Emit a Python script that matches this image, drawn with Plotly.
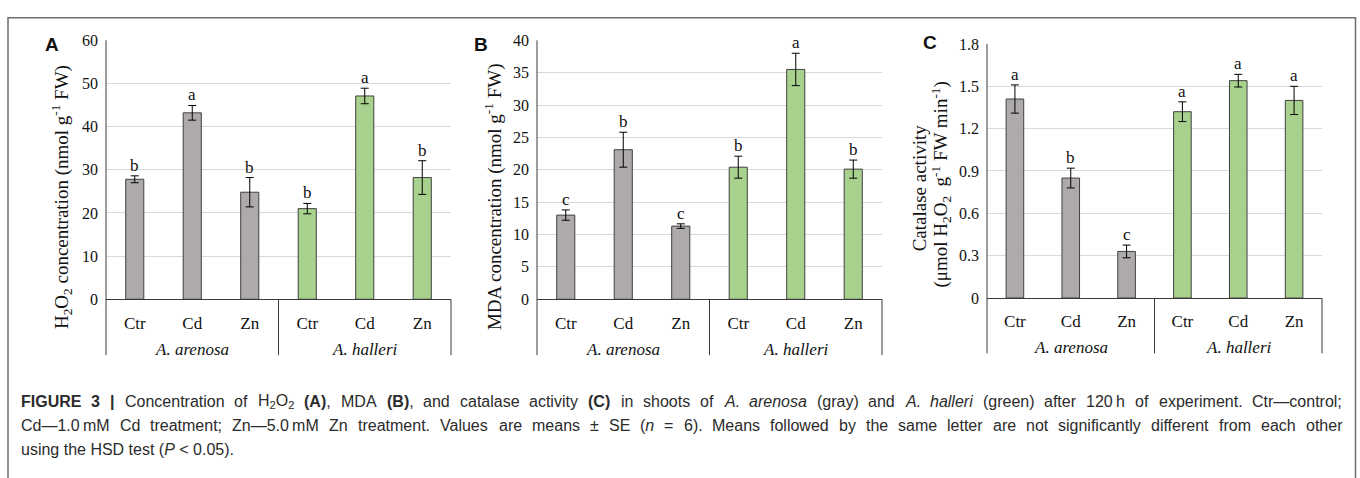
import re
import plotly.graph_objects as go

# ---------------- data ----------------
treatments = ["Ctr", "Cd", "Zn"]
species = ["A. arenosa", "A. halleri"]

h2o2_mean = [27.8, 43.2, 24.8, 21.0, 47.1, 28.2]
h2o2_se = [0.8, 1.7, 3.4, 1.2, 1.8, 3.9]
h2o2_sig = ["b", "a", "b", "b", "a", "b"]
h2o2_ticks = [0, 10, 20, 30, 40, 50, 60]

mda_mean = [13.0, 23.1, 11.3, 20.4, 35.5, 20.1]
mda_se = [0.8, 2.7, 0.35, 1.7, 2.5, 1.4]
mda_sig = ["c", "b", "c", "b", "a", "b"]
mda_ticks = [0, 5, 10, 15, 20, 25, 30, 35, 40]

cat_mean = [1.41, 0.85, 0.33, 1.32, 1.54, 1.40]
cat_se = [0.10, 0.07, 0.045, 0.07, 0.045, 0.10]
cat_sig = ["a", "b", "c", "a", "a", "a"]
cat_ticks = [0, 0.3, 0.6, 0.9, 1.2, 1.5, 1.8]
cat_ticktext = ["0", "0.3", "0.6", "0.9", "1.2", "1.5", "1.8"]

caption_line1 = ("<b>FIGURE</b> <b>3</b> <b>|</b> Concentration of H<sub>2</sub>O<sub>2</sub> <b>(A)</b>, MDA <b>(B)</b>, "
                 "and catalase activity <b>(C)</b> in shoots of <i>A.</i> <i>arenosa</i> (gray) and <i>A.</i> "
                 "<i>halleri</i> (green) after 120\u2009h of experiment. Ctr\u2014control;")
caption_line2 = ("Cd\u20141.0\u2009mM Cd treatment; Zn\u20145.0\u2009mM Zn treatment. Values are means \u00b1 SE "
                 "(<i>n</i> = 6). Means followed by the same letter are not significantly different from each other")
caption_line3 = "using the HSD test (<i>P</i> &lt; 0.05)."

# ---------------- style ----------------
W, H = 1360, 478
GRAY = "#AEAAAA"
GREEN = "#A9D18E"
OUTLINE = "#404040"
AXIS = "#3a3a3a"
GRID = "#D9D9D9"
SERIF = "Liberation Serif, Times New Roman, serif"
SANS = "Liberation Sans, Arial, sans-serif"
CAP_SIZE = 16


def fx(px):
    return px / W


def fy(py):
    return 1 - py / H


# Arial / Liberation Sans advance widths (1/1000 em) for caption justification
_REG = dict(zip("abcdefghijklmnopqrstuvwxyz",
                [556, 556, 500, 556, 556, 278, 556, 556, 222, 222, 500, 222, 833,
                 556, 556, 556, 556, 333, 500, 278, 556, 500, 722, 500, 500, 500]))
_REG.update(dict(zip("ABCDEFGHIJKLMNOPQRSTUVWXYZ",
                     [667, 667, 722, 722, 667, 611, 778, 722, 278, 500, 667, 556, 833,
                      722, 778, 667, 778, 722, 667, 611, 722, 667, 944, 667, 667, 611])))
_REG.update({c: 556 for c in "0123456789"})
_REG.update({" ": 278, ".": 278, ",": 278, ";": 278, ":": 278, "(": 333, ")": 333,
             "|": 260, "\u00b1": 549, "=": 584, "<": 584, "\u2014": 1000, "\u2009": 200})
_BOLD = dict(_REG)
_BOLD.update(dict(zip("ABCDEFGHIJKLMNOPQRSTUVWXYZ",
                      [722, 722, 722, 722, 667, 611, 778, 722, 278, 556, 722, 611, 833,
                       722, 778, 667, 778, 722, 667, 611, 722, 667, 944, 667, 667, 611])))
_BOLD.update({"|": 280})


def text_width(html, size):
    w, bold, scale = 0.0, False, 1.0
    for tok in re.split(r"(<[^>]+>)", html):
        if tok.startswith("<"):
            t = tok.lower()
            if t == "<b>":
                bold = True
            elif t == "</b>":
                bold = False
            elif t in ("<sub>", "<sup>"):
                scale = 0.7
            elif t in ("</sub>", "</sup>"):
                scale = 1.0
            continue
        tok = tok.replace("&lt;", "<").replace("&gt;", ">").replace("&amp;", "&")
        table = _BOLD if bold else _REG
        for ch in tok:
            w += table.get(ch, 556) * scale
    return w * size / 1000.0


panels = [
    dict(mean=h2o2_mean, se=h2o2_se, sig=h2o2_sig, ticks=h2o2_ticks,
         ticktext=[str(t) for t in h2o2_ticks],
         x0=106, x1=451, ytop=33.5, ybot=302, boxbot=360, letter="A", lx=52, ly=38,
         titles=[("H<sub>2</sub>O<sub>2</sub> concentration (nmol g<sup>-1</sup> FW)", 61, 196)]),
    dict(mean=mda_mean, se=mda_se, sig=mda_sig, ticks=mda_ticks,
         ticktext=[str(t) for t in mda_ticks],
         x0=537, x1=882, ytop=33.5, ybot=302, boxbot=360, letter="B", lx=481, ly=38,
         titles=[("MDA concentration (nmol g<sup>-1</sup> FW)", 493, 196)]),
    dict(mean=cat_mean, se=cat_se, sig=cat_sig, ticks=cat_ticks,
         ticktext=cat_ticktext,
         x0=987, x1=1322, ytop=37.3, ybot=300.7, boxbot=358, letter="C", lx=930, ly=36,
         titles=[("Catalase activity", 919, 187),
                 ("(μmol H<sub>2</sub>O<sub>2</sub>  g<sup>-1</sup> FW min<sup>-1</sup>)", 941, 183)]),
]

fig = go.Figure()
shapes = []
annotations = []
layout_axes = {}

xpos = list(range(len(treatments) * len(species)))
labels = treatments * len(species)
colors = [GRAY] * len(treatments) + [GREEN] * len(treatments)

for i, p in enumerate(panels):
    n = "" if i == 0 else str(i + 1)
    xa, ya = "x" + n, "y" + n
    fig.add_trace(go.Bar(
        x=xpos, y=p["mean"], xaxis=xa, yaxis=ya, width=0.315,
        marker=dict(color=colors, line=dict(color=OUTLINE, width=1)),
        error_y=dict(type="data", array=p["se"], visible=True,
                     color="#000000", thickness=1, width=4),
        showlegend=False, hoverinfo="skip",
    ))
    top = p["ticks"][-1]
    layout_axes["xaxis" + n] = dict(
        domain=[fx(p["x0"]), fx(p["x1"])], anchor=ya, range=[-0.5, 5.5],
        tickvals=xpos, ticktext=labels, showgrid=False, zeroline=False,
        showline=True, linecolor=AXIS, linewidth=1, ticks="",
        tickfont=dict(family=SERIF, size=17, color="#111"), ticklabelstandoff=8,
        fixedrange=True,
    )
    layout_axes["yaxis" + n] = dict(
        domain=[fy(p["ybot"]), fy(p["ytop"])], anchor=xa, range=[0, top],
        tickvals=p["ticks"], ticktext=p["ticktext"], showgrid=True,
        gridcolor=GRID, gridwidth=1, zeroline=False, showline=False, ticks="",
        tickfont=dict(family=SERIF, size=16, color="#111"), ticklabelstandoff=7,
        fixedrange=True,
    )
    # left axis line (extends through category box)
    shapes.append(dict(type="line", xref="paper", yref="paper",
                       x0=fx(p["x0"]), x1=fx(p["x0"]), y0=fy(p["ytop"]), y1=fy(p["boxbot"]),
                       line=dict(color=AXIS, width=1)))
    # group divider & right edge of category box
    shapes.append(dict(type="line", xref=xa, yref="paper",
                       x0=2.5, x1=2.5, y0=fy(p["ybot"]), y1=fy(p["boxbot"]),
                       line=dict(color=AXIS, width=1)))
    shapes.append(dict(type="line", xref="paper", yref="paper",
                       x0=fx(p["x1"]), x1=fx(p["x1"]), y0=fy(p["ybot"]), y1=fy(p["boxbot"]),
                       line=dict(color=AXIS, width=1)))
    # group labels
    for g, sp in enumerate(species):
        annotations.append(dict(xref=xa, yref="paper", x=1 + 3 * g, y=fy(p["boxbot"] - 6),
                                text="<i>" + sp + "</i>", showarrow=False,
                                font=dict(family=SERIF, size=17, color="#111"),
                                xanchor="center", yanchor="middle"))
    # significance letters
    for j, (m, s, l) in enumerate(zip(p["mean"], p["se"], p["sig"])):
        annotations.append(dict(xref=xa, yref=ya, x=xpos[j], y=m + s, text=l,
                                showarrow=False, yanchor="bottom", xanchor="center",
                                font=dict(family=SERIF, size=17, color="#111"), yshift=-1))
    # panel letter
    annotations.append(dict(xref="paper", yref="paper", x=fx(p["lx"]), y=fy(p["ly"]),
                            text="<b>" + p["letter"] + "</b>", showarrow=False,
                            xanchor="center", yanchor="middle",
                            font=dict(family=SANS, size=19, color="#111")))
    # axis title(s)
    for (t, tx, ty) in p["titles"]:
        annotations.append(dict(xref="paper", yref="paper", x=fx(tx), y=fy(ty),
                                text=t, showarrow=False, textangle=-90,
                                xanchor="center", yanchor="middle",
                                font=dict(family=SERIF, size=19, color="#111")))

# outer frame (open at bottom)
shapes.append(dict(type="path", xref="paper", yref="paper",
                   path=f"M {fx(8)},{fy(490)} L {fx(8)},{fy(10)} L {fx(1355.5)},{fy(10)} L {fx(1355.5)},{fy(490)}",
                   line=dict(color="#6e6e6e", width=1.5)))

# caption: lines 1-2 justified, line 3 left-aligned
CAP_X0, CAP_X1 = 20, 1341


def caption_words(line, y, justify):
    words = line.split(" ")
    widths = [text_width(w, CAP_SIZE) for w in words]
    space = _REG[" "] * CAP_SIZE / 1000.0
    if justify:
        gap = (CAP_X1 - CAP_X0 - sum(widths)) / (len(words) - 1)
    else:
        gap = space
    x = CAP_X0
    for w, wd in zip(words, widths):
        annotations.append(dict(xref="paper", yref="paper", x=fx(x), y=fy(y), text=w,
                                showarrow=False, xanchor="left", yanchor="middle", align="left",
                                borderpad=0,
                                font=dict(family=SANS, size=CAP_SIZE, color="#2b2b2b")))
        x += wd + gap


caption_words(caption_line1, 408, True)
caption_words(caption_line2, 433, True)
annotations.append(dict(xref="paper", yref="paper", x=fx(CAP_X0), y=fy(458), text=caption_line3,
                        showarrow=False, xanchor="left", yanchor="middle", align="left",
                        borderpad=0, font=dict(family=SANS, size=CAP_SIZE, color="#2b2b2b")))

fig.update_layout(
    width=W, height=H, autosize=False,
    margin=dict(l=0, r=0, t=0, b=0),
    paper_bgcolor="white", plot_bgcolor="white",
    shapes=shapes, annotations=annotations, showlegend=False,
    **layout_axes,
)

fig.write_html("out.html", config={"displayModeBar": False})
